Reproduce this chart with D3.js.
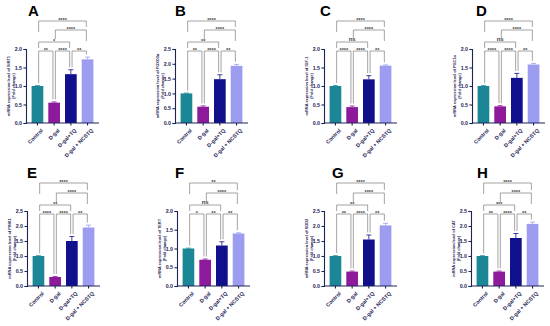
<!DOCTYPE html>
<html>
<head>
<meta charset="utf-8">
<script src="https://cdn.jsdelivr.net/npm/d3@7"></script>
<style>
  body { margin: 0; background: #fff; }
  svg { display: block; font-family: Arial, "Liberation Sans", sans-serif; }
</style>
</head>
<body>
<svg id="chart" width="550" height="326"></svg>
<script>
// groups shared by every panel
const groups = ["Control", "D-gal", "D-gal+TQ", "D-gal + NCSTQ"];
const letters = ["A", "B", "C", "D", "E", "F", "G", "H"];
const genes = ["SIRT1", "FOXO3a", "IGF-1", "PGC1\u03b1", "PINK1", "TERT", "SOD2", "CAT"];

// fold change
const means = [
    [1.00, 0.55, 1.32, 1.72],
    [1.00, 0.55, 1.48, 1.93],
    [1.00, 0.43, 1.18, 1.55],
    [1.00, 0.45, 1.22, 1.58],
    [1.00, 0.30, 1.50, 1.95],
    [1.00, 0.70, 1.08, 1.40],
    [1.00, 0.48, 1.55, 2.02],
    [1.00, 0.48, 1.60, 2.07]
];
const errors = [
    [0.01, 0.02, 0.12, 0.06],
    [0.01, 0.03, 0.15, 0.05],
    [0.01, 0.03, 0.10, 0.02],
    [0.01, 0.02, 0.12, 0.03],
    [0.01, 0.02, 0.15, 0.08],
    [0.01, 0.02, 0.10, 0.02],
    [0.01, 0.02, 0.15, 0.07],
    [0.01, 0.02, 0.15, 0.06]
];
const yMax = [2.0, 2.5, 2.0, 2.0, 2.5, 2.0, 2.5, 2.5];

// pairs compared, lowest bracket first
const comparisons = [[0, 1], [1, 2], [2, 3], [0, 2], [1, 3], [0, 3]];
const stars = [
    ["**", "****", "**", "*", "****", "****"],
    ["**", "****", "**", "**", "****", "****"],
    ["****", "****", "**", "ns", "****", "****"],
    ["****", "****", "**", "ns", "****", "****"],
    ["****", "****", "**", "**", "****", "****"],
    ["*", "**", "**", "ns", "****", "**"],
    ["**", "****", "**", "**", "****", "****"],
    ["**", "****", "**", "***", "****", "****"]
];

// layout
const colors = ["#1b8796", "#8c1a9a", "#10108c", "#9c9cf0"];
const ink = "#1e2454";
const axisX = [26, 175, 324, 472, 27, 177, 324, 471];
const letterX = [28, 175, 320, 476, 27, 175, 332, 477];
const rowBase = [123, 286];
const rowTop = [49, 211];
const rowLetterY = [16, 178];
const bracketLevels = [[51, 42, 30, 21], [214, 205, 193, 183]];
const compLevel = [0, 0, 0, 1, 2, 3];

const svg = d3.select('#chart');

letters.forEach((letter, p) => {
    let row = p < 4 ? 0 : 1;
    let x0 = axisX[p];
    let g = svg.append('g').attr('id', 'panel' + letter);

    let x = d3.scaleBand()
        .domain(groups)
        .range([x0, x0 + 73])
        .paddingInner(0.3)
        .paddingOuter(0.335);

    let y = d3.scaleLinear()
        .domain([0, yMax[p]])
        .range([rowBase[row], rowTop[row]]);

    // panel letter
    g.append('text')
        .attr('x', letterX[p])
        .attr('y', rowLetterY[row])
        .attr('font-size', 15)
        .attr('font-weight', 'bold')
        .attr('fill', '#000')
        .text(letter);

    // bars
    g.append('g')
        .selectAll('rect')
        .data(means[p])
        .join('rect')
        .attr('x', (d, i) => x(groups[i]))
        .attr('width', x.bandwidth())
        .attr('y', d => y(d))
        .attr('height', d => y(0) - y(d))
        .attr('fill', (d, i) => colors[i]);

    // upper error bars, prism style
    let errG = g.append('g');
    means[p].forEach((m, i) => {
        let cx = x(groups[i]) + x.bandwidth() / 2;
        let top = y(m + errors[p][i]);
        errG.append('line')
            .attr('x1', cx).attr('x2', cx)
            .attr('y1', y(m)).attr('y2', top)
            .attr('stroke', colors[i]).attr('stroke-width', 0.8);
        errG.append('line')
            .attr('x1', cx - 2.5).attr('x2', cx + 2.5)
            .attr('y1', top).attr('y2', top)
            .attr('stroke', colors[i]).attr('stroke-width', 0.8);
    });

    // axes
    let yAxis = d3.axisLeft(y)
        .tickValues(d3.range(0, yMax[p] + 0.01, 0.5))
        .tickFormat(d3.format('.1f'))
        .tickSizeOuter(0)
        .tickSize(2.5)
        .tickPadding(1.5);
    let yg = g.append('g')
        .attr('transform', `translate(${x0},0)`)
        .call(yAxis);

    let xAxis = d3.axisBottom(x).tickSizeOuter(0).tickSize(2.5);
    let xg = g.append('g')
        .attr('transform', `translate(0,${y(0)})`)
        .call(xAxis);
    xg.select('.domain').attr('d', `M${x0},0H${x0 + 73}`);

    [yg, xg].forEach(a => {
        a.selectAll('path, line').attr('stroke', ink).attr('stroke-width', 1.1);
        a.selectAll('text')
            .attr('fill', ink)
            .attr('font-size', 5.3)
            .attr('font-weight', 'bold')
            .attr('font-family', 'Arial, "Liberation Sans", sans-serif');
    });

    xg.selectAll('text')
        .attr('text-anchor', 'end')
        .attr('dy', 0)
        .attr('transform', 'translate(2,4) rotate(-45)');

    // y label
    let midY = (rowBase[row] + rowTop[row]) / 2;
    let yLabel = ['mRNA expression level of ' + genes[p], '(Fold change)'];
    yLabel.forEach((t, k) => {
        g.append('text')
            .attr('transform', `translate(${x0 - 16 + k * 4.5},${midY}) rotate(-90)`)
            .attr('text-anchor', 'middle')
            .attr('font-size', 3.9)
            .attr('font-weight', 'bold')
            .attr('fill', ink)
            .text(t);
    });

    // significance brackets
    let levels = bracketLevels[row];
    let center = i => x(groups[i]) + x.bandwidth() / 2;
    let legEnd = (gi, lvl, ly) => {
        let below = comparisons
            .map((c, k) => ({c: c, lvl: compLevel[k]}))
            .filter(b => b.lvl < lvl && b.c[0] <= gi && gi <= b.c[1]);
        if (below.length === 0) {
            return y(means[p][gi] + errors[p][gi]) - 2.5;
        }
        let nearest = d3.max(below, b => b.lvl);
        return Math.min(levels[nearest] - 3, ly + 11);
    };

    let brG = g.append('g');
    comparisons.forEach((c, k) => {
        let lvl = compLevel[k];
        let ly = levels[lvl];
        let xa = center(c[0]) + 1.2;
        let xb = center(c[1]) - 1.2;
        let ya = legEnd(c[0], lvl, ly);
        let yb = legEnd(c[1], lvl, ly);
        brG.append('path')
            .attr('d', `M${xa},${ya}V${ly}H${xb}V${yb}`)
            .attr('fill', 'none')
            .attr('stroke', '#7d7d7d')
            .attr('stroke-width', 0.7);
        let label = stars[p][k];
        brG.append('text')
            .attr('x', (xa + xb) / 2)
            .attr('y', label === 'ns' ? ly - 1.3 : ly + 0.6)
            .attr('text-anchor', 'middle')
            .attr('font-size', label === 'ns' ? 6 : 5.5)
            .attr('font-weight', 'bold')
            .attr('fill', '#444')
            .text(label);
    });
});
</script>
</body>
</html>
